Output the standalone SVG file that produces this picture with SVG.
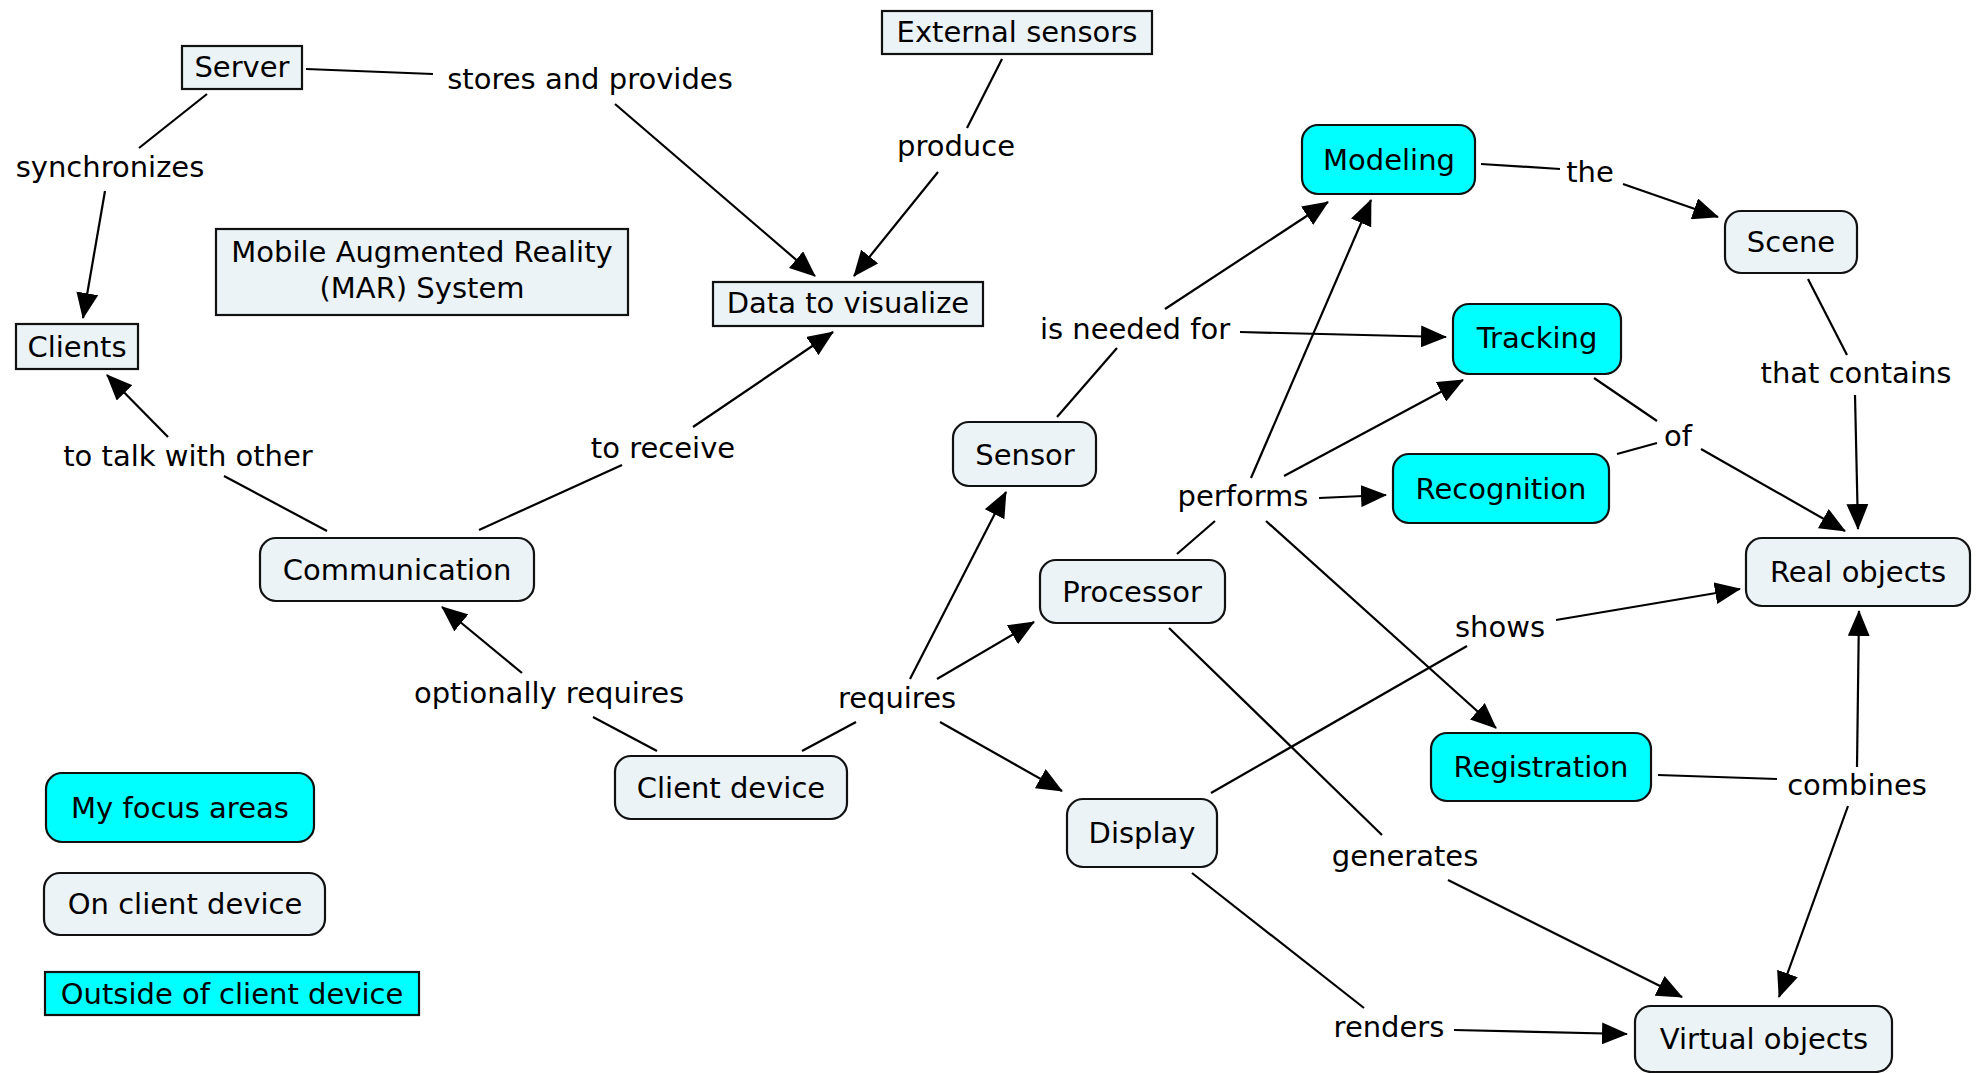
<svg xmlns="http://www.w3.org/2000/svg" width="1979" height="1073" viewBox="0 0 1979 1073">
<style>
text{font-family:"DejaVu Sans","Verdana",sans-serif;font-size:29px;fill:#000;text-anchor:middle}
.n{fill:#ECF3F6;stroke:#111;stroke-width:2.2}
.c{fill:#00FFFF;stroke:#111;stroke-width:2.2}
.e line{stroke:#000;stroke-width:2.2}
</style>
<defs>
<marker id="a" markerWidth="26" markerHeight="22" refX="25" refY="11" orient="auto" markerUnits="userSpaceOnUse">
<path d="M0,0 L26,11 L0,22 z" fill="#000"/>
</marker>
</defs>
<rect width="1979" height="1073" fill="#fff"/>
<g id="connectors" class="e">
<line x1="306" y1="69" x2="433" y2="74"/>
<line x1="615" y1="104" x2="815" y2="276" marker-end="url(#a)"/>
<line x1="207" y1="94" x2="139" y2="148"/>
<line x1="105" y1="191" x2="83" y2="318" marker-end="url(#a)"/>
<line x1="1002" y1="59" x2="967" y2="128"/>
<line x1="938" y1="172" x2="854" y2="276" marker-end="url(#a)"/>
<line x1="327" y1="531" x2="224" y2="476"/>
<line x1="168" y1="437" x2="107" y2="375" marker-end="url(#a)"/>
<line x1="479" y1="530" x2="622" y2="465"/>
<line x1="693" y1="427" x2="833" y2="332" marker-end="url(#a)"/>
<line x1="657" y1="751" x2="593" y2="717"/>
<line x1="522" y1="673" x2="442" y2="607" marker-end="url(#a)"/>
<line x1="802" y1="751" x2="856" y2="722"/>
<line x1="910" y1="679" x2="1006" y2="492" marker-end="url(#a)"/>
<line x1="937" y1="679" x2="1034" y2="622" marker-end="url(#a)"/>
<line x1="940" y1="722" x2="1062" y2="791" marker-end="url(#a)"/>
<line x1="1057" y1="417" x2="1117" y2="348"/>
<line x1="1165" y1="309" x2="1328" y2="202" marker-end="url(#a)"/>
<line x1="1240" y1="332" x2="1446" y2="337" marker-end="url(#a)"/>
<line x1="1177" y1="554" x2="1215" y2="521"/>
<line x1="1251" y1="478" x2="1371" y2="200" marker-end="url(#a)"/>
<line x1="1284" y1="476" x2="1463" y2="380" marker-end="url(#a)"/>
<line x1="1319" y1="498" x2="1386" y2="495" marker-end="url(#a)"/>
<line x1="1266" y1="521" x2="1496" y2="728" marker-end="url(#a)"/>
<line x1="1481" y1="164" x2="1560" y2="169"/>
<line x1="1623" y1="184" x2="1718" y2="217" marker-end="url(#a)"/>
<line x1="1808" y1="279" x2="1847" y2="355"/>
<line x1="1855" y1="395" x2="1858" y2="529" marker-end="url(#a)"/>
<line x1="1594" y1="378" x2="1657" y2="421"/>
<line x1="1617" y1="454" x2="1657" y2="443"/>
<line x1="1701" y1="449" x2="1845" y2="531" marker-end="url(#a)"/>
<line x1="1211" y1="793" x2="1467" y2="646"/>
<line x1="1556" y1="620" x2="1740" y2="589" marker-end="url(#a)"/>
<line x1="1169" y1="628" x2="1382" y2="835"/>
<line x1="1448" y1="880" x2="1682" y2="997" marker-end="url(#a)"/>
<line x1="1192" y1="873" x2="1364" y2="1008"/>
<line x1="1454" y1="1030" x2="1627" y2="1034" marker-end="url(#a)"/>
<line x1="1658" y1="775" x2="1777" y2="779"/>
<line x1="1857" y1="767" x2="1859" y2="611" marker-end="url(#a)"/>
<line x1="1848" y1="806" x2="1779" y2="997" marker-end="url(#a)"/>
</g>
<g id="labels">
<text x="590" y="89">stores and provides</text>
<text x="110" y="177">synchronizes</text>
<text x="956" y="156">produce</text>
<text x="188" y="466">to talk with other</text>
<text x="663" y="458">to receive</text>
<text x="549" y="703">optionally requires</text>
<text x="897" y="708">requires</text>
<text x="1135" y="339">is needed for</text>
<text x="1243" y="506">performs</text>
<text x="1590" y="182">the</text>
<text x="1856" y="383">that contains</text>
<text x="1678" y="446">of</text>
<text x="1500" y="637">shows</text>
<text x="1405" y="866">generates</text>
<text x="1389" y="1037">renders</text>
<text x="1857" y="795">combines</text>
</g>
<g id="server"><rect class="n" x="182" y="46" width="120" height="43"/><text x="242" y="77">Server</text></g>
<g id="external-sensors"><rect class="n" x="882" y="11" width="270" height="43"/><text x="1017" y="42">External sensors</text></g>
<g id="data"><rect class="n" x="713" y="282" width="270" height="44"/><text x="848" y="313">Data to visualize</text></g>
<g id="mar"><rect class="n" x="216" y="229" width="412" height="86"/><text x="422" y="262">Mobile Augmented Reality</text><text x="422" y="298">(MAR) System</text></g>
<g id="clients"><rect class="n" x="16" y="324" width="122" height="45"/><text x="77" y="357">Clients</text></g>
<g id="modeling"><rect class="c" x="1302" y="125" width="173" height="69" rx="16"/><text x="1389" y="170">Modeling</text></g>
<g id="scene"><rect class="n" x="1725" y="211" width="132" height="62" rx="16"/><text x="1791" y="252">Scene</text></g>
<g id="tracking"><rect class="c" x="1453" y="304" width="168" height="70" rx="16"/><text x="1537" y="348">Tracking</text></g>
<g id="sensor"><rect class="n" x="953" y="422" width="143" height="64" rx="16"/><text x="1025" y="465">Sensor</text></g>
<g id="recognition"><rect class="c" x="1393" y="454" width="216" height="69" rx="16"/><text x="1501" y="499">Recognition</text></g>
<g id="communication"><rect class="n" x="260" y="538" width="274" height="63" rx="16"/><text x="397" y="580">Communication</text></g>
<g id="processor"><rect class="n" x="1040" y="560" width="185" height="63" rx="16"/><text x="1132" y="602">Processor</text></g>
<g id="real-objects"><rect class="n" x="1746" y="538" width="224" height="68" rx="16"/><text x="1858" y="582">Real objects</text></g>
<g id="client-device"><rect class="n" x="615" y="756" width="232" height="63" rx="16"/><text x="731" y="798">Client device</text></g>
<g id="display"><rect class="n" x="1067" y="799" width="150" height="68" rx="16"/><text x="1142" y="843">Display</text></g>
<g id="registration"><rect class="c" x="1431" y="733" width="220" height="68" rx="16"/><text x="1541" y="777">Registration</text></g>
<g id="virtual-objects"><rect class="n" x="1635" y="1006" width="257" height="66" rx="16"/><text x="1764" y="1049">Virtual objects</text></g>
<g id="legend-focus"><rect class="c" x="46" y="773" width="268" height="69" rx="16"/><text x="180" y="818">My focus areas</text></g>
<g id="legend-on"><rect class="n" x="44" y="873" width="281" height="62" rx="16"/><text x="185" y="914">On client device</text></g>
<g id="legend-outside"><rect class="c" x="45" y="972" width="374" height="43"/><text x="232" y="1004">Outside of client device</text></g>
</svg>
